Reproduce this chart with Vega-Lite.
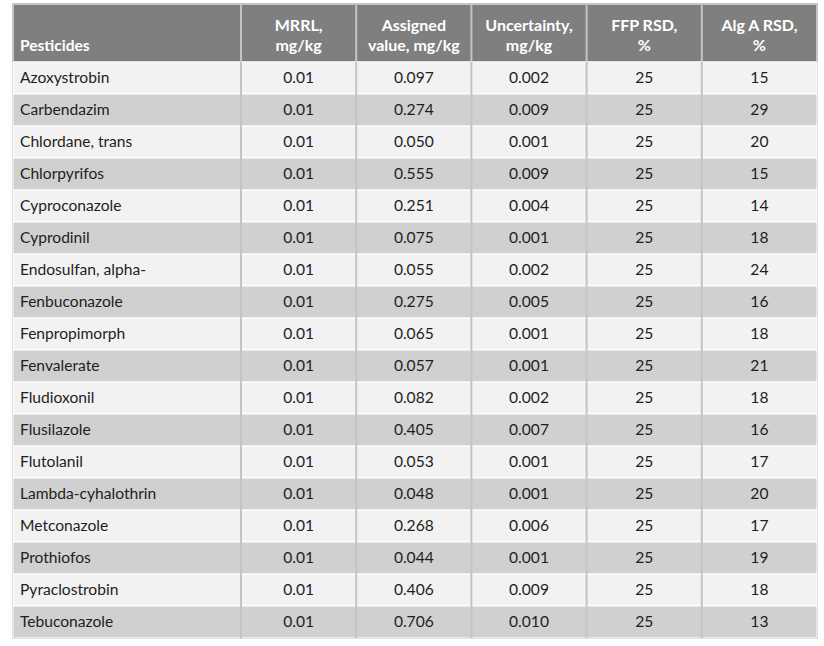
{
  "$schema": "https://vega.github.io/schema/vega-lite/v6.json",
  "padding": {"left": 11, "top": 2, "right": 0, "bottom": 0},
  "background": "white",
  "bounds": "flush",
  "config": {
    "view": {"stroke": "#c4c4c4", "strokeWidth": 2},
    "font": "Lato",
    "concat": {"spacing": 0},
    "text": {"fontSize": 15}
  },
  "datasets": {
    "rows": [
      {"Pesticide": "Azoxystrobin", "MRRL": 0.01, "Assigned": 0.097, "Uncertainty": 0.002, "FFP": 25, "AlgA": 15},
      {"Pesticide": "Carbendazim", "MRRL": 0.01, "Assigned": 0.274, "Uncertainty": 0.009, "FFP": 25, "AlgA": 29},
      {"Pesticide": "Chlordane, trans", "MRRL": 0.01, "Assigned": 0.050, "Uncertainty": 0.001, "FFP": 25, "AlgA": 20},
      {"Pesticide": "Chlorpyrifos", "MRRL": 0.01, "Assigned": 0.555, "Uncertainty": 0.009, "FFP": 25, "AlgA": 15},
      {"Pesticide": "Cyproconazole", "MRRL": 0.01, "Assigned": 0.251, "Uncertainty": 0.004, "FFP": 25, "AlgA": 14},
      {"Pesticide": "Cyprodinil", "MRRL": 0.01, "Assigned": 0.075, "Uncertainty": 0.001, "FFP": 25, "AlgA": 18},
      {"Pesticide": "Endosulfan, alpha-", "MRRL": 0.01, "Assigned": 0.055, "Uncertainty": 0.002, "FFP": 25, "AlgA": 24},
      {"Pesticide": "Fenbuconazole", "MRRL": 0.01, "Assigned": 0.275, "Uncertainty": 0.005, "FFP": 25, "AlgA": 16},
      {"Pesticide": "Fenpropimorph", "MRRL": 0.01, "Assigned": 0.065, "Uncertainty": 0.001, "FFP": 25, "AlgA": 18},
      {"Pesticide": "Fenvalerate", "MRRL": 0.01, "Assigned": 0.057, "Uncertainty": 0.001, "FFP": 25, "AlgA": 21},
      {"Pesticide": "Fludioxonil", "MRRL": 0.01, "Assigned": 0.082, "Uncertainty": 0.002, "FFP": 25, "AlgA": 18},
      {"Pesticide": "Flusilazole", "MRRL": 0.01, "Assigned": 0.405, "Uncertainty": 0.007, "FFP": 25, "AlgA": 16},
      {"Pesticide": "Flutolanil", "MRRL": 0.01, "Assigned": 0.053, "Uncertainty": 0.001, "FFP": 25, "AlgA": 17},
      {"Pesticide": "Lambda-cyhalothrin", "MRRL": 0.01, "Assigned": 0.048, "Uncertainty": 0.001, "FFP": 25, "AlgA": 20},
      {"Pesticide": "Metconazole", "MRRL": 0.01, "Assigned": 0.268, "Uncertainty": 0.006, "FFP": 25, "AlgA": 17},
      {"Pesticide": "Prothiofos", "MRRL": 0.01, "Assigned": 0.044, "Uncertainty": 0.001, "FFP": 25, "AlgA": 19},
      {"Pesticide": "Pyraclostrobin", "MRRL": 0.01, "Assigned": 0.406, "Uncertainty": 0.009, "FFP": 25, "AlgA": 18},
      {"Pesticide": "Tebuconazole", "MRRL": 0.01, "Assigned": 0.706, "Uncertainty": 0.010, "FFP": 25, "AlgA": 13}
    ],
    "headers": [
      {"c": "MRRL", "t": "MRRL,\nmg/kg"},
      {"c": "Assigned", "t": "Assigned\nvalue, mg/kg"},
      {"c": "Uncertainty", "t": "Uncertainty,\nmg/kg"},
      {"c": "FFP", "t": "FFP RSD,\n%"},
      {"c": "AlgA", "t": "Alg A RSD,\n%"}
    ]
  },
  "spacing": 0,
  "columns": 2,
  "concat": [
    {
      "width": 228,
      "height": 58,
      "view": {"fill": "#7f7f7f"},
      "data": {"values": [{"h": "Pesticides"}]},
      "mark": {"type": "text", "align": "left", "baseline": "middle", "dx": 7, "dy": 13, "fontWeight": "bold", "fontSize": 15.5, "color": "white"},
      "encoding": {
        "x": {"field": "h", "type": "nominal", "bandPosition": 0, "axis": null, "scale": {"type": "band", "paddingInner": 0, "paddingOuter": 0}},
        "text": {"field": "h"}
      }
    },
    {
      "width": 576,
      "height": 58,
      "view": {"fill": "#7f7f7f"},
      "data": {"name": "headers"},
      "encoding": {
        "x": {"field": "c", "type": "nominal", "axis": null, "sort": null,
              "scale": {"type": "band", "domain": ["MRRL", "Assigned", "Uncertainty", "FFP", "AlgA"], "paddingInner": 0, "paddingOuter": 0}}
      },
      "layer": [
        {
          "mark": {"type": "rule", "color": "#c4c4c4", "strokeWidth": 2},
          "encoding": {"x": {"field": "c", "type": "nominal", "bandPosition": 0}}
        },
        {
          "mark": {"type": "text", "align": "center", "baseline": "middle", "lineBreak": "\n", "lineHeight": 20, "dy": -7, "fontWeight": "bold", "fontSize": 16, "color": "white"},
          "encoding": {"text": {"field": "t"}}
        }
      ]
    },
    {
      "width": 228,
      "height": 576,
      "data": {"name": "rows"},
      "encoding": {
        "y": {"field": "Pesticide", "type": "nominal", "sort": null, "axis": null, "scale": {"type": "band", "paddingInner": 0, "paddingOuter": 0}}
      },
      "layer": [
        {
          "mark": {"type": "rect", "stroke": "#ffffff", "strokeWidth": 1},
          "encoding": {
            "fill": {"field": "Pesticide", "type": "nominal", "sort": null, "legend": null, "scale": {"range": ["#f2f2f2", "#d0d0d0"]}}
          }
        },
        {
          "mark": {"type": "text", "align": "left", "baseline": "middle", "dx": 7, "fontSize": 15.6, "color": "#1e1e1e"},
          "encoding": {
            "x": {"datum": "Pesticides", "type": "nominal", "bandPosition": 0, "axis": null, "scale": {"type": "band", "paddingInner": 0, "paddingOuter": 0}},
            "text": {"field": "Pesticide"}
          }
        }
      ]
    },
    {
      "width": 576,
      "height": 576,
      "data": {"name": "rows"},
      "encoding": {
        "y": {"field": "Pesticide", "type": "nominal", "sort": null, "axis": null, "scale": {"type": "band", "paddingInner": 0, "paddingOuter": 0}}
      },
      "layer": [
        {
          "mark": {"type": "rect", "stroke": "#ffffff", "strokeWidth": 1},
          "encoding": {
            "fill": {"field": "Pesticide", "type": "nominal", "sort": null, "legend": null, "scale": {"range": ["#f2f2f2", "#d0d0d0"]}}
          }
        },
        {
          "mark": {"type": "text", "align": "center", "baseline": "middle", "fontSize": 15.6, "color": "#1e1e1e"},
          "encoding": {
            "x": {"datum": "MRRL", "type": "nominal", "axis": null, "scale": {"type": "band", "domain": ["MRRL", "Assigned", "Uncertainty", "FFP", "AlgA"], "paddingInner": 0, "paddingOuter": 0}},
            "text": {"field": "MRRL", "type": "quantitative", "format": ".2f"}
          }
        },
        {
          "mark": {"type": "text", "align": "center", "baseline": "middle", "fontSize": 15.6, "color": "#1e1e1e"},
          "encoding": {
            "x": {"datum": "Assigned", "type": "nominal"},
            "text": {"field": "Assigned", "type": "quantitative", "format": ".3f"}
          }
        },
        {
          "mark": {"type": "text", "align": "center", "baseline": "middle", "fontSize": 15.6, "color": "#1e1e1e"},
          "encoding": {
            "x": {"datum": "Uncertainty", "type": "nominal"},
            "text": {"field": "Uncertainty", "type": "quantitative", "format": ".3f"}
          }
        },
        {
          "mark": {"type": "text", "align": "center", "baseline": "middle", "fontSize": 15.6, "color": "#1e1e1e"},
          "encoding": {
            "x": {"datum": "FFP", "type": "nominal"},
            "text": {"field": "FFP", "type": "quantitative", "format": "d"}
          }
        },
        {
          "mark": {"type": "text", "align": "center", "baseline": "middle", "fontSize": 15.6, "color": "#1e1e1e"},
          "encoding": {
            "x": {"datum": "AlgA", "type": "nominal"},
            "text": {"field": "AlgA", "type": "quantitative", "format": "d"}
          }
        },
        {
          "data": {"name": "headers"},
          "mark": {"type": "rule", "color": "#c4c4c4", "strokeWidth": 2},
          "encoding": {
            "x": {"field": "c", "type": "nominal", "bandPosition": 0},
            "y": null
          }
        }
      ]
    }
  ]
}
